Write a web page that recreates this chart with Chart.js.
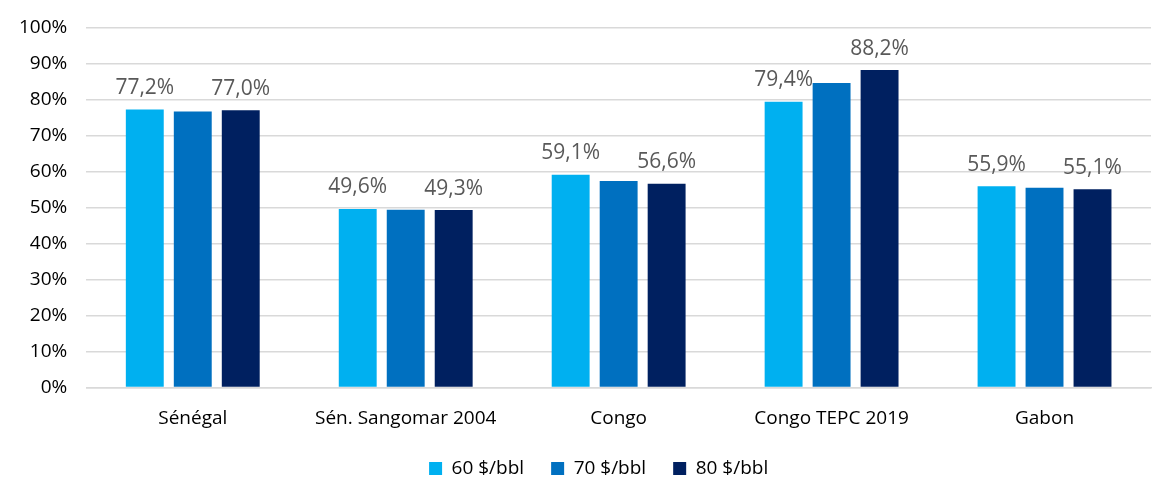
<!DOCTYPE html>
<html lang="fr">
<head>
<meta charset="UTF-8">
<title>Taux</title>
<script src="https://cdn.jsdelivr.net/npm/chart.js"></script>
<style>
  html, body { margin: 0; padding: 0; background: #fff; }
  #wrap { width: 1157px; height: 480px; }
</style>
</head>
<body>
<div id="wrap"><canvas id="chart" width="1157" height="480"></canvas></div>
<script>
const categories = ['Sénégal', 'Sén. Sangomar 2004', 'Congo', 'Congo TEPC 2019', 'Gabon'];
const s60 = [77.2, 49.6, 59.1, 79.4, 55.9];
const s70 = [76.7, 49.4, 57.4, 84.6, 55.5];
const s80 = [77.0, 49.3, 56.6, 88.2, 55.1];
const seriesNames = ['60 $/bbl', '70 $/bbl', '80 $/bbl'];
const yTicks = [0, 10, 20, 30, 40, 50, 60, 70, 80, 90, 100];

const FONT = 'Open Sans';

// value labels above the 60 and 80 series only
const barLabels = {
    id: 'barLabels',
    afterLayout(chart) {
        // nudge the legend a bit to the left, like the original
        chart.legend.left -= 40;
    },
    afterDatasetsDraw(chart) {
        const ctx = chart.ctx;
        ctx.save();
        ctx.font = '21px "' + FONT + '"';
        ctx.fillStyle = '#595959';
        ctx.textAlign = 'center';
        ctx.textBaseline = 'bottom';
        chart.data.datasets.forEach((ds, i) => {
            if (!ds.showLabels) return;
            chart.getDatasetMeta(i).data.forEach((bar, j) => {
                const txt = ds.data[j].toFixed(1).replace('.', ',') + '%';
                ctx.fillText(txt, bar.x, bar.y - 11);
            });
        });
        ctx.restore();
    }
};

new Chart(document.getElementById('chart'), {
    type: 'bar',
    data: {
        labels: categories,
        datasets: [
            { label: seriesNames[0], data: s60, backgroundColor: '#00b0f0', showLabels: true },
            { label: seriesNames[1], data: s70, backgroundColor: '#0070c0', showLabels: false },
            { label: seriesNames[2], data: s80, backgroundColor: '#002060', showLabels: true }
        ]
    },
    options: {
        responsive: false,
        animation: false,
        layout: { padding: { left: 0, right: 6, top: 0, bottom: -8 } },
        datasets: {
            bar: { categoryPercentage: 0.676, barPercentage: 0.79 }
        },
        scales: {
            x: {
                grid: { display: false, drawTicks: false },
                border: { color: '#d9d9d9', width: 1.5 },
                ticks: { color: '#000', font: { family: FONT, size: 19 }, padding: 20 },
                afterFit(axis) { axis.height = 44.5; }
            },
            y: {
                min: 0,
                max: 100,
                afterBuildTicks(axis) { axis.ticks = yTicks.map(v => ({ value: v })); },
                grid: { color: '#d9d9d9', lineWidth: 1.5, drawTicks: false },
                border: { display: false },
                ticks: {
                    color: '#000',
                    font: { family: FONT, size: 19, lineHeight: 0.9 },
                    padding: 19,
                    callback: v => v + '%'
                }
            }
        },
        plugins: {
            legend: {
                position: 'bottom',
                fullSize: false,
                labels: {
                    color: '#000',
                    font: { family: FONT, size: 19 },
                    boxWidth: 13,
                    boxHeight: 13,
                    padding: 27
                }
            },
            tooltip: { enabled: false }
        }
    },
    plugins: [barLabels]
});
</script>
</body>
</html>
